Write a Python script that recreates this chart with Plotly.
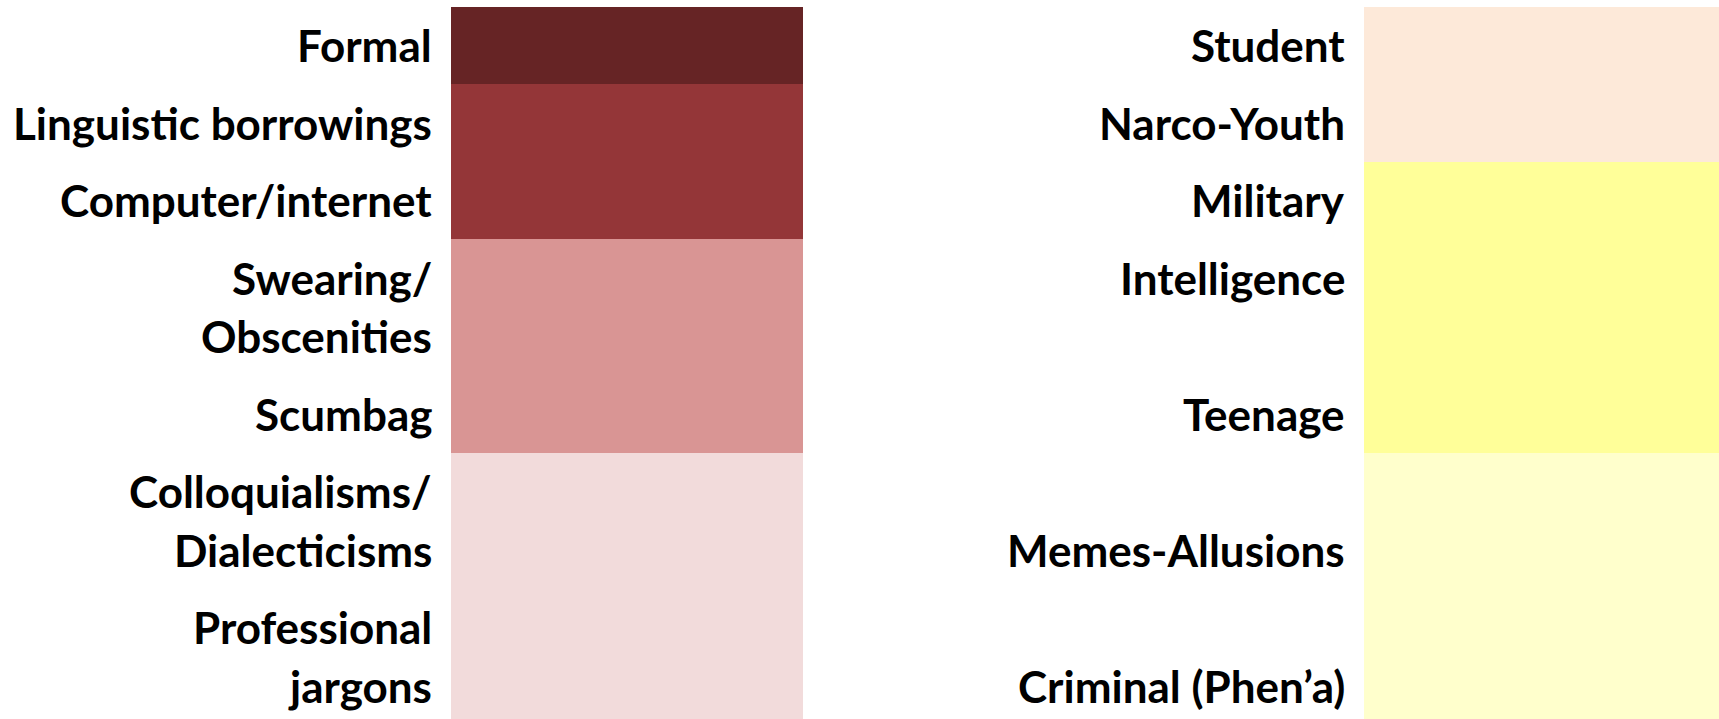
import plotly.graph_objects as go

# ---- data ----
left_labels = ["Formal", "Linguistic borrowings", "Computer/internet",
               "Swearing/\nObscenities", "Scumbag",
               "Colloquialisms/\nDialecticisms", "Professional\njargons"]
left_groups = [0, 1, 1, 2, 2, 3, 3]
left_colors = ["#662425", "#943638", "#D99594", "#F2DBDB"]

right_labels = ["Student", "Narco-Youth", "Military", "Intelligence\n",
                "Teenage", "\nMemes-Allusions", "\nCriminal (Phen\u2019a)"]
right_groups = [0, 0, 1, 1, 1, 2, 2]
right_colors = ["#FDE9D9", "#FFFF99", "#FFFFCC"]

# ---- table geometry (layout) ----
TOP = 6.6
PAD = 19.0
LINE = 58.5
row_lines = [max(len(a.split("\n")), len(b.split("\n")))
             for a, b in zip(left_labels, right_labels)]
row_tops = []
y = TOP
for n in row_lines:
    row_tops.append(y)
    y += PAD + LINE * n
row_bottoms = [t + PAD + LINE * n for t, n in zip(row_tops, row_lines)]

columns = [
    dict(labels=left_labels, groups=left_groups, colors=left_colors,
         x0=450.6, x1=802.5, tx=433.5),
    dict(labels=right_labels, groups=right_groups, colors=right_colors,
         x0=1364, x1=1719, tx=1346.5),
]

fig = go.Figure()
annotations = []
FONT = "Lato, 'Open Sans', sans-serif"

for col in columns:
    cx = (col["x0"] + col["x1"]) / 2
    w = col["x1"] - col["x0"]
    for g, color in enumerate(col["colors"]):
        idx = [i for i, gg in enumerate(col["groups"]) if gg == g]
        top = row_tops[idx[0]]
        bot = row_bottoms[idx[-1]]
        fig.add_trace(go.Bar(
            x=[cx], y=[bot - top], base=[top], width=[w],
            marker=dict(color=color, line=dict(width=0)),
            hoverinfo="skip", showlegend=False,
        ))
    for i, lab in enumerate(col["labels"]):
        lines = lab.split("\n")
        for k, ln in enumerate(lines):
            if not ln:
                continue
            ycen = row_tops[i] + PAD / 2 + LINE * (k + 0.5)
            annotations.append(dict(
                x=col["tx"], y=ycen, xref="x", yref="y", text=ln,
                showarrow=False, xanchor="right", yanchor="middle",
                font=dict(family=FONT, size=44, color="black", weight="bold"),
            ))

fig.update_layout(
    width=1719, height=719,
    margin=dict(l=0, r=0, t=0, b=0),
    paper_bgcolor="white", plot_bgcolor="white",
    barmode="overlay", bargap=0,
    xaxis=dict(range=[0, 1719], visible=False, fixedrange=True),
    yaxis=dict(range=[719, 0], visible=False, fixedrange=True),
    annotations=annotations,
)

fig.write_html("out.html", config={"displayModeBar": False},
               post_script="document.body.style.margin='0';")
